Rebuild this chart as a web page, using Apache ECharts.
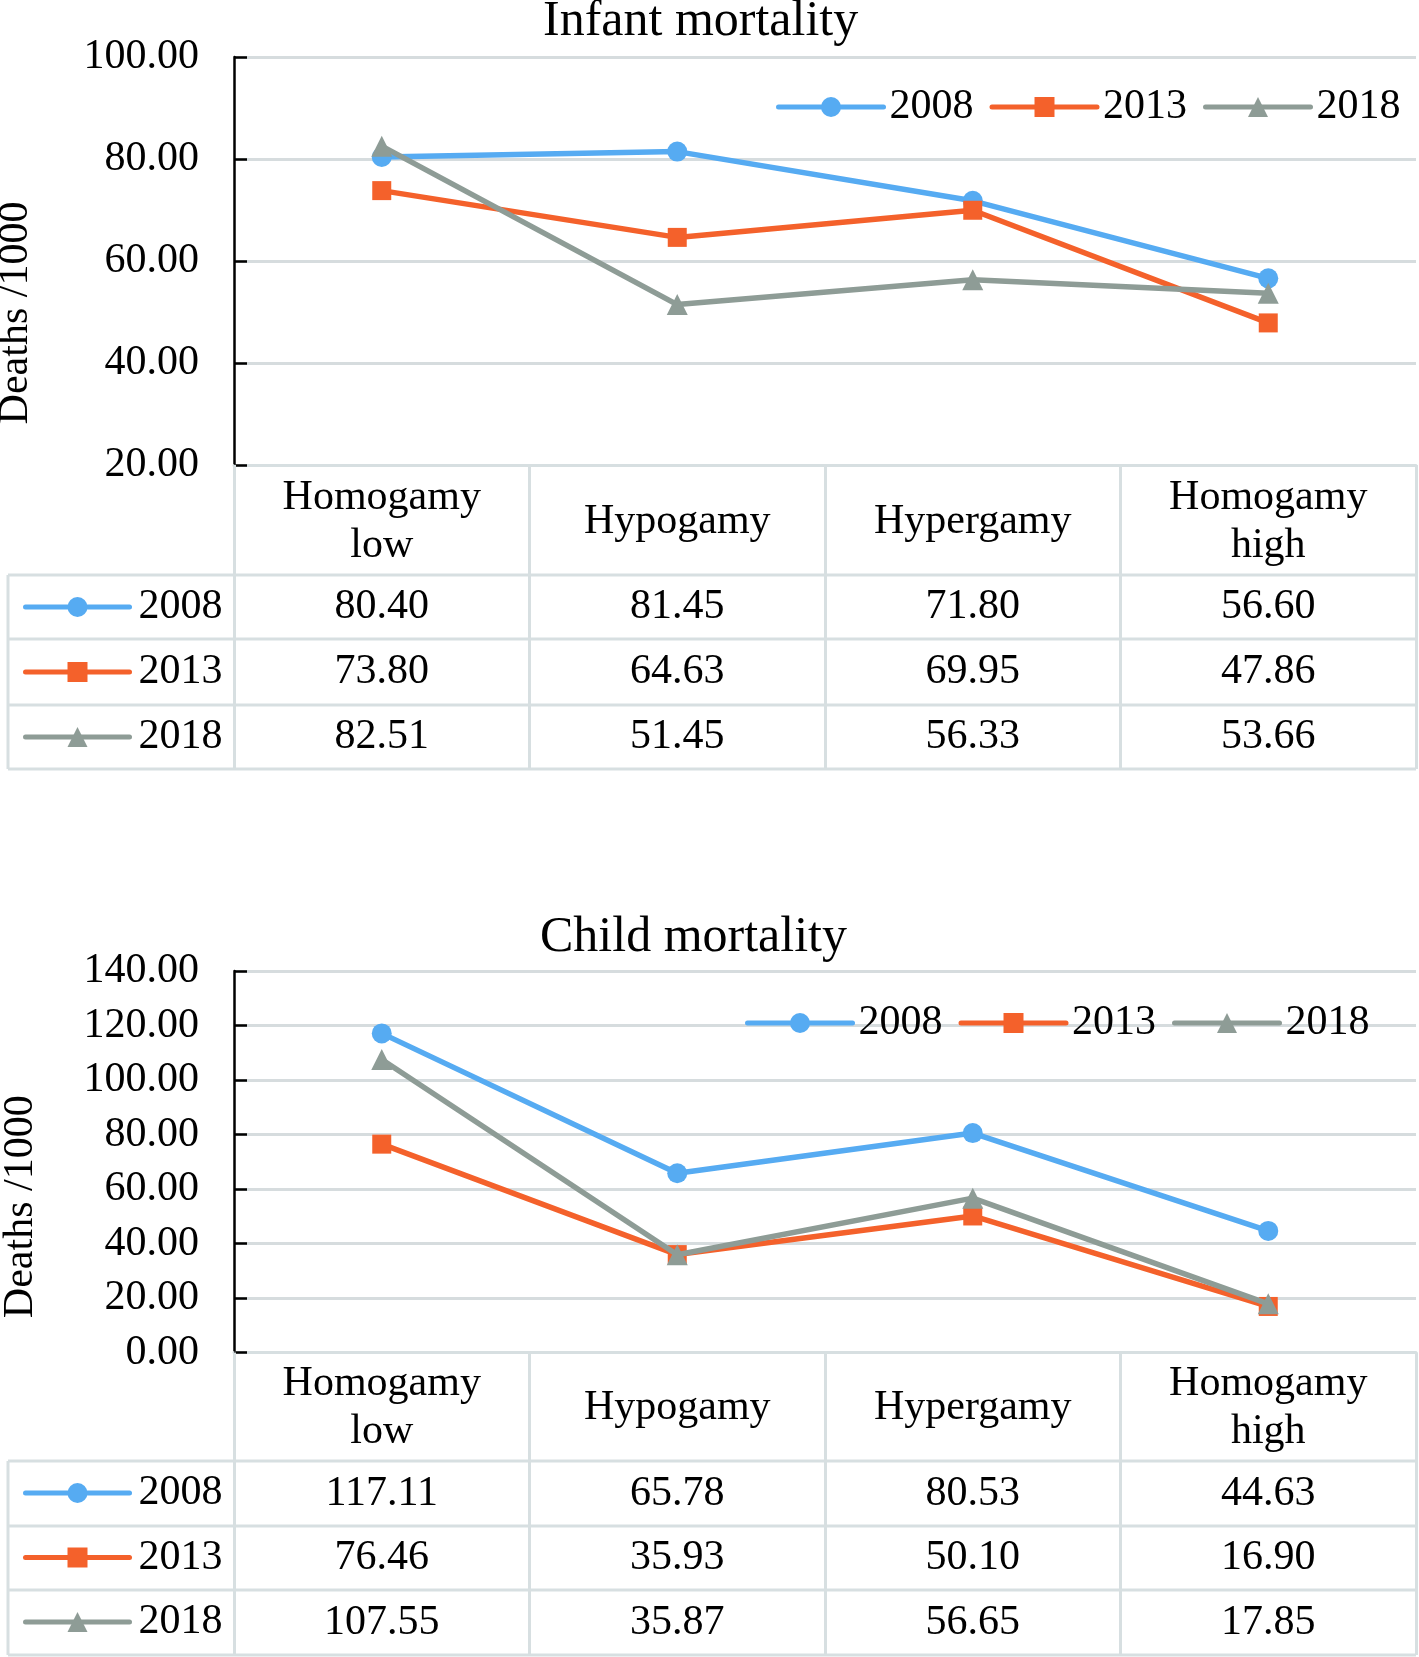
<!DOCTYPE html>
<html><head><meta charset="utf-8">
<script src="https://cdn.jsdelivr.net/npm/echarts@6/dist/echarts.min.js"></script>
<style>html,body{margin:0;padding:0;background:#fff}#c{width:1419px;height:1657px}</style>
</head><body><div id="c"></div>
<script>
// ---------- data ----------
const categories = ['Homogamy\nlow', 'Hypogamy', 'Hypergamy', 'Homogamy\nhigh'];
const years = ['2008', '2013', '2018'];
const infant2008 = [80.40, 81.45, 71.80, 56.60];
const infant2013 = [73.80, 64.63, 69.95, 47.86];
const infant2018 = [82.51, 51.45, 56.33, 53.66];
const child2008 = [117.11, 65.78, 80.53, 44.63];
const child2013 = [76.46, 35.93, 50.10, 16.90];
const child2018 = [107.55, 35.87, 56.65, 17.85];
const infantAxis = { min: 20, max: 100, interval: 20 };
const childAxis = { min: 0, max: 140, interval: 20 };

// ---------- style ----------
const FONT = 'Liberation Serif';
const COLORS = ['#56abf2', '#f4612b', '#8e9c96'];
const SYMBOLS = ['circle', 'rect', 'triangle'];
const SYMBOL_SIZES = [20, 19, 21];
const BORDER = '#d7dfe1';
const GRID_COLOR = '#d6dcde';

const panels = [
  { title: 'Infant mortality', titleLeft: 543, titleTop: -3,
    gridTop: 57, gridHeight: 408, axis: infantAxis,
    values: [infant2008, infant2013, infant2018],
    legendLeft: 776, legendTop: 86,
    headerMargin: 57, rowMargins: [142, 207, 272],
    rowLines: [575, 639, 705, 769], tableLegendTop: 586, tableLegendGap: 23,
    nameGap: 197, namePad: 104 },
  { title: 'Child mortality', titleLeft: 540, titleTop: 913,
    gridTop: 971, gridHeight: 381.5, axis: childAxis,
    values: [child2008, child2013, child2018],
    legendLeft: 745, legendTop: 1002,
    headerMargin: 55, rowMargins: [141, 205.5, 270],
    rowLines: [1461, 1526, 1590, 1655], tableLegendTop: 1472, tableLegendGap: 22.5,
    nameGap: 192, namePad: 90 }
];
const GRID_LEFT = 234, GRID_RIGHT = 3, TABLE_LEFT = 8, W = 1419;

const txt = (size) => ({ fontFamily: FONT, fontSize: size, color: '#000', fontWeight: 'normal' });

const option = { animation: false, backgroundColor: '#fff',
  title: [], grid: [], xAxis: [], yAxis: [], series: [], legend: [], graphic: [] };

panels.forEach((p, pi) => {
  const axisY = p.gridTop + p.gridHeight;
  const tableBottom = p.rowLines[p.rowLines.length - 1];
  option.title.push({ text: p.title, left: p.titleLeft, top: p.titleTop, padding: 0,
    textStyle: Object.assign(txt(50), { lineHeight: 50 }) });
  option.grid.push({ left: GRID_LEFT, right: GRID_RIGHT, top: p.gridTop, height: p.gridHeight,
    containLabel: false, outerBoundsMode: 'none' });
  const mainX = option.xAxis.length;
  option.xAxis.push({ type: 'category', gridIndex: pi, data: categories, position: 'bottom',
    boundaryGap: true,
    axisLine: { show: true, lineStyle: { color: BORDER, width: 3 } },
    axisTick: { show: true, interval: 0, length: tableBottom - axisY, lineStyle: { color: BORDER, width: 3 } },
    splitLine: { show: false },
    axisLabel: Object.assign(txt(42), { interval: 0, lineHeight: 48, verticalAlign: 'middle', margin: p.headerMargin })
  });
  p.values.forEach((vals, si) => {
    option.xAxis.push({ type: 'category', gridIndex: pi, data: categories, position: 'bottom',
      axisLine: { show: false }, axisTick: { show: false }, splitLine: { show: false },
      axisLabel: Object.assign(txt(42), { interval: 0, verticalAlign: 'middle', margin: p.rowMargins[si],
        formatter: (v, idx) => vals[idx].toFixed(2) })
    });
  });
  option.yAxis.push({ type: 'value', gridIndex: pi, min: p.axis.min, max: p.axis.max, interval: p.axis.interval,
    axisLine: { show: true, lineStyle: { color: '#000', width: 2.5 } },
    axisTick: { show: true, inside: false, length: -13, lineStyle: { color: '#000', width: 2.5 } },
    splitLine: { show: true, lineStyle: { color: GRID_COLOR, width: 3 } },
    axisLabel: Object.assign(txt(42), { margin: 35, formatter: v => v.toFixed(2) }),
    name: 'Deaths /1000', nameLocation: 'middle', nameGap: p.nameGap, nameRotate: 90,
    nameTextStyle: Object.assign(txt(42), { padding: [0, p.namePad, 0, 0] })
  });
  p.values.forEach((vals, si) => {
    option.series.push({ type: 'line', name: years[si], xAxisIndex: mainX, yAxisIndex: pi,
      data: vals, symbol: SYMBOLS[si], symbolSize: SYMBOL_SIZES[si],
      lineStyle: { width: 5.5, color: COLORS[si], cap: 'round', join: 'round' }, itemStyle: { color: COLORS[si] },
      emphasis: { disabled: true }, z: 3 + si });
  });
  option.legend.push({ data: years, left: p.legendLeft, top: p.legendTop, itemWidth: 105, itemHeight: 25,
    itemGap: 16, padding: 0, selectedMode: false,
    lineStyle: { width: 5, cap: 'round' },
    textStyle: Object.assign(txt(42), { lineHeight: 42, padding: [0, 0, 0, 1] }) });
  option.legend.push({ data: years, orient: 'vertical', left: 23, top: p.tableLegendTop,
    itemWidth: 104, itemHeight: 25, itemGap: p.tableLegendGap, padding: 0, selectedMode: false,
    lineStyle: { width: 5, cap: 'round' },
    textStyle: Object.assign(txt(42), { lineHeight: 42, padding: [0, 0, 0, 4] }) });
  // table row borders
  p.rowLines.forEach(y => {
    option.graphic.push({ type: 'line', silent: true, z: 1,
      shape: { x1: TABLE_LEFT, y1: y, x2: W - GRID_RIGHT, y2: y },
      style: { stroke: BORDER, lineWidth: 3 } });
  });
  option.graphic.push({ type: 'line', silent: true, z: 1,
    shape: { x1: TABLE_LEFT, y1: p.rowLines[0], x2: TABLE_LEFT, y2: tableBottom },
    style: { stroke: BORDER, lineWidth: 3 } });
});

const chart = echarts.init(document.getElementById('c'), null, { renderer: 'canvas' });
chart.setOption(option);
</script></body></html>
